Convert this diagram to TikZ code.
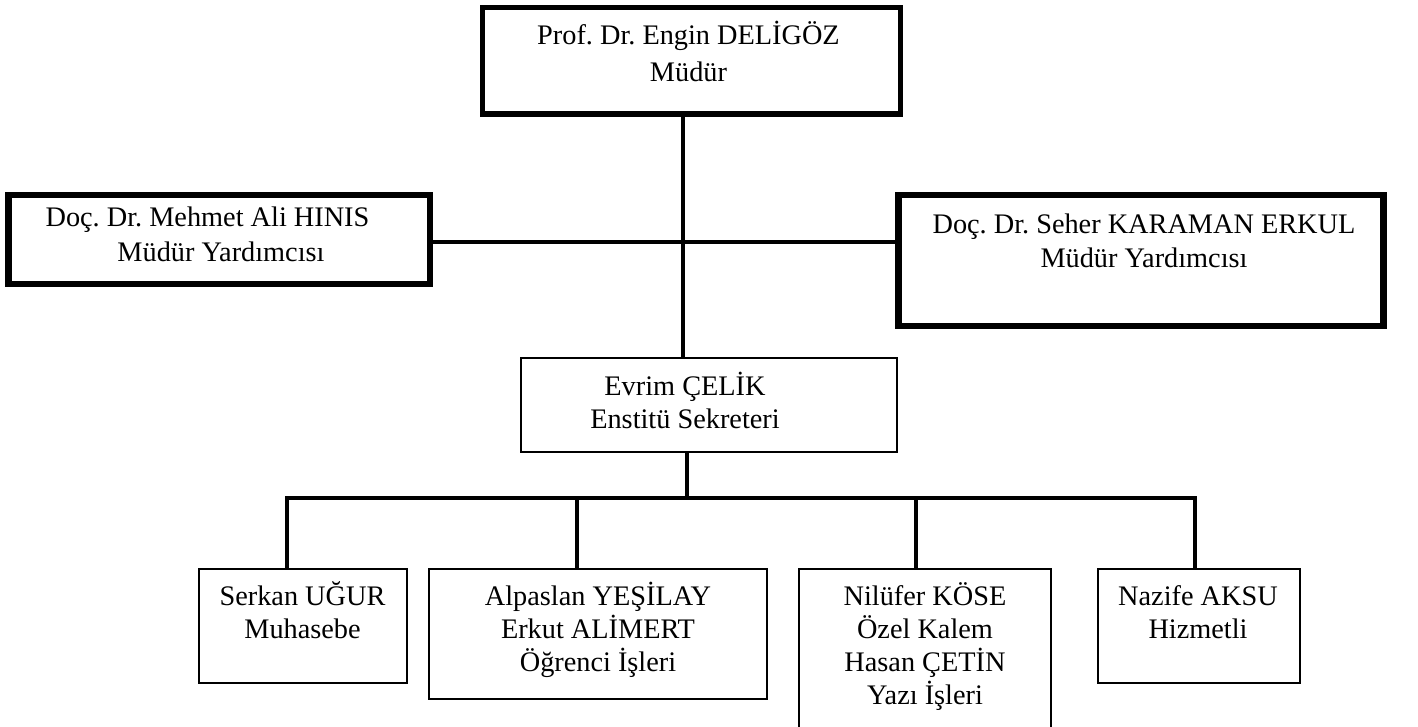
\documentclass[tikz,border=0pt]{standalone}
\usepackage{fontspec}
\setmainfont{Liberation Serif}
\frenchspacing
\newcommand\mylines[1]{\begin{tabular}[t]{@{}c@{}}#1\end{tabular}}
\tikzset{
  thickbox/.style={draw, line width=5.5pt, inner sep=0pt},
  depbox/.style={draw, line width=6.5pt, inner sep=0pt},
  thinbox/.style={draw, line width=1.6pt, inner sep=0pt},
  conn/.style={line width=4.5pt},
  txt/.style={inner sep=0pt, anchor=base, font=\fontsize{28.3}{33}\selectfont},
}
\begin{document}
\begin{tikzpicture}[x=1pt, y=-1pt]
\clip (0,0) rectangle (1418,727);
\fill[white] (0,0) rectangle (1418,727);
% boxes
\node[thickbox, minimum width=418pt, minimum height=106.5pt] (top) at (691.5,60.75) {};
\node[depbox, minimum width=421.5pt, minimum height=89pt] (left) at (219.25,239.5) {};
\node[depbox, minimum width=485pt, minimum height=131pt] (right) at (1141,260.5) {};
\node[thinbox, minimum width=376pt, minimum height=94pt] (sek) at (709,405) {};
\node[thinbox, minimum width=208pt, minimum height=114pt] (serk) at (303,626) {};
\node[thinbox, minimum width=338pt, minimum height=130pt] (alp) at (598,634) {};
\node[thinbox, minimum width=252pt, minimum height=176pt] (nil) at (925,657) {};
\node[thinbox, minimum width=202pt, minimum height=114pt] (naz) at (1199,626) {};
% texts
\node[txt, font=\fontsize{28.3}{37}\selectfont] (topT) at (688.5,45) {\mylines{Prof. Dr. Engin DELİGÖZ\\ Müdür}};
\node[txt, font=\fontsize{28.3}{35}\selectfont] (leftT) at (221,227) {\mylines{Doç. Dr. Mehmet Ali HINIS\hspace*{27pt}\\ Müdür Yardımcısı}};
\node[txt, font=\fontsize{28.3}{34}\selectfont] (rightT) at (1144,234) {\mylines{Doç. Dr. Seher KARAMAN ERKUL\\ Müdür Yardımcısı}};
\node[txt] (sekT) at (685,395) {\mylines{Evrim ÇELİK\\ Enstitü Sekreteri}};
\node[txt] (serkT) at (302.5,605) {\mylines{Serkan UĞUR\\ Muhasebe}};
\node[txt] (alpT) at (598,605) {\mylines{Alpaslan YEŞİLAY\\ Erkut ALİMERT\\ Öğrenci İşleri}};
\node[txt] (nilT) at (925,605) {\mylines{Nilüfer KÖSE\\ Özel Kalem\\ Hasan ÇETİN\\ Yazı İşleri}};
\node[txt] (nazT) at (1198,605) {\mylines{Nazife AKSU\\ Hizmetli}};
% junction coordinates
\coordinate (v1) at (683,0);
\coordinate (h1) at (0,242);
\coordinate (v2) at (687,498);
\coordinate (j1) at (287,498);
\coordinate (j2) at (577,498);
\coordinate (j3) at (916,498);
\coordinate (j4) at (1195,498);
% connectors
\draw[conn] (top.south -| v1) -- (sek.north -| v1);
\draw[conn] (left.east |- h1) -- (right.west |- h1);
\draw[conn] (sek.south -| v2) -- (v2);
\draw[conn] (serk.north -| j1) -- (j1) -- (j4) -- (naz.north -| j4);
\draw[conn] (j2) -- (alp.north -| j2);
\draw[conn] (j3) -- (nil.north -| j3);
\end{tikzpicture}
\end{document}
